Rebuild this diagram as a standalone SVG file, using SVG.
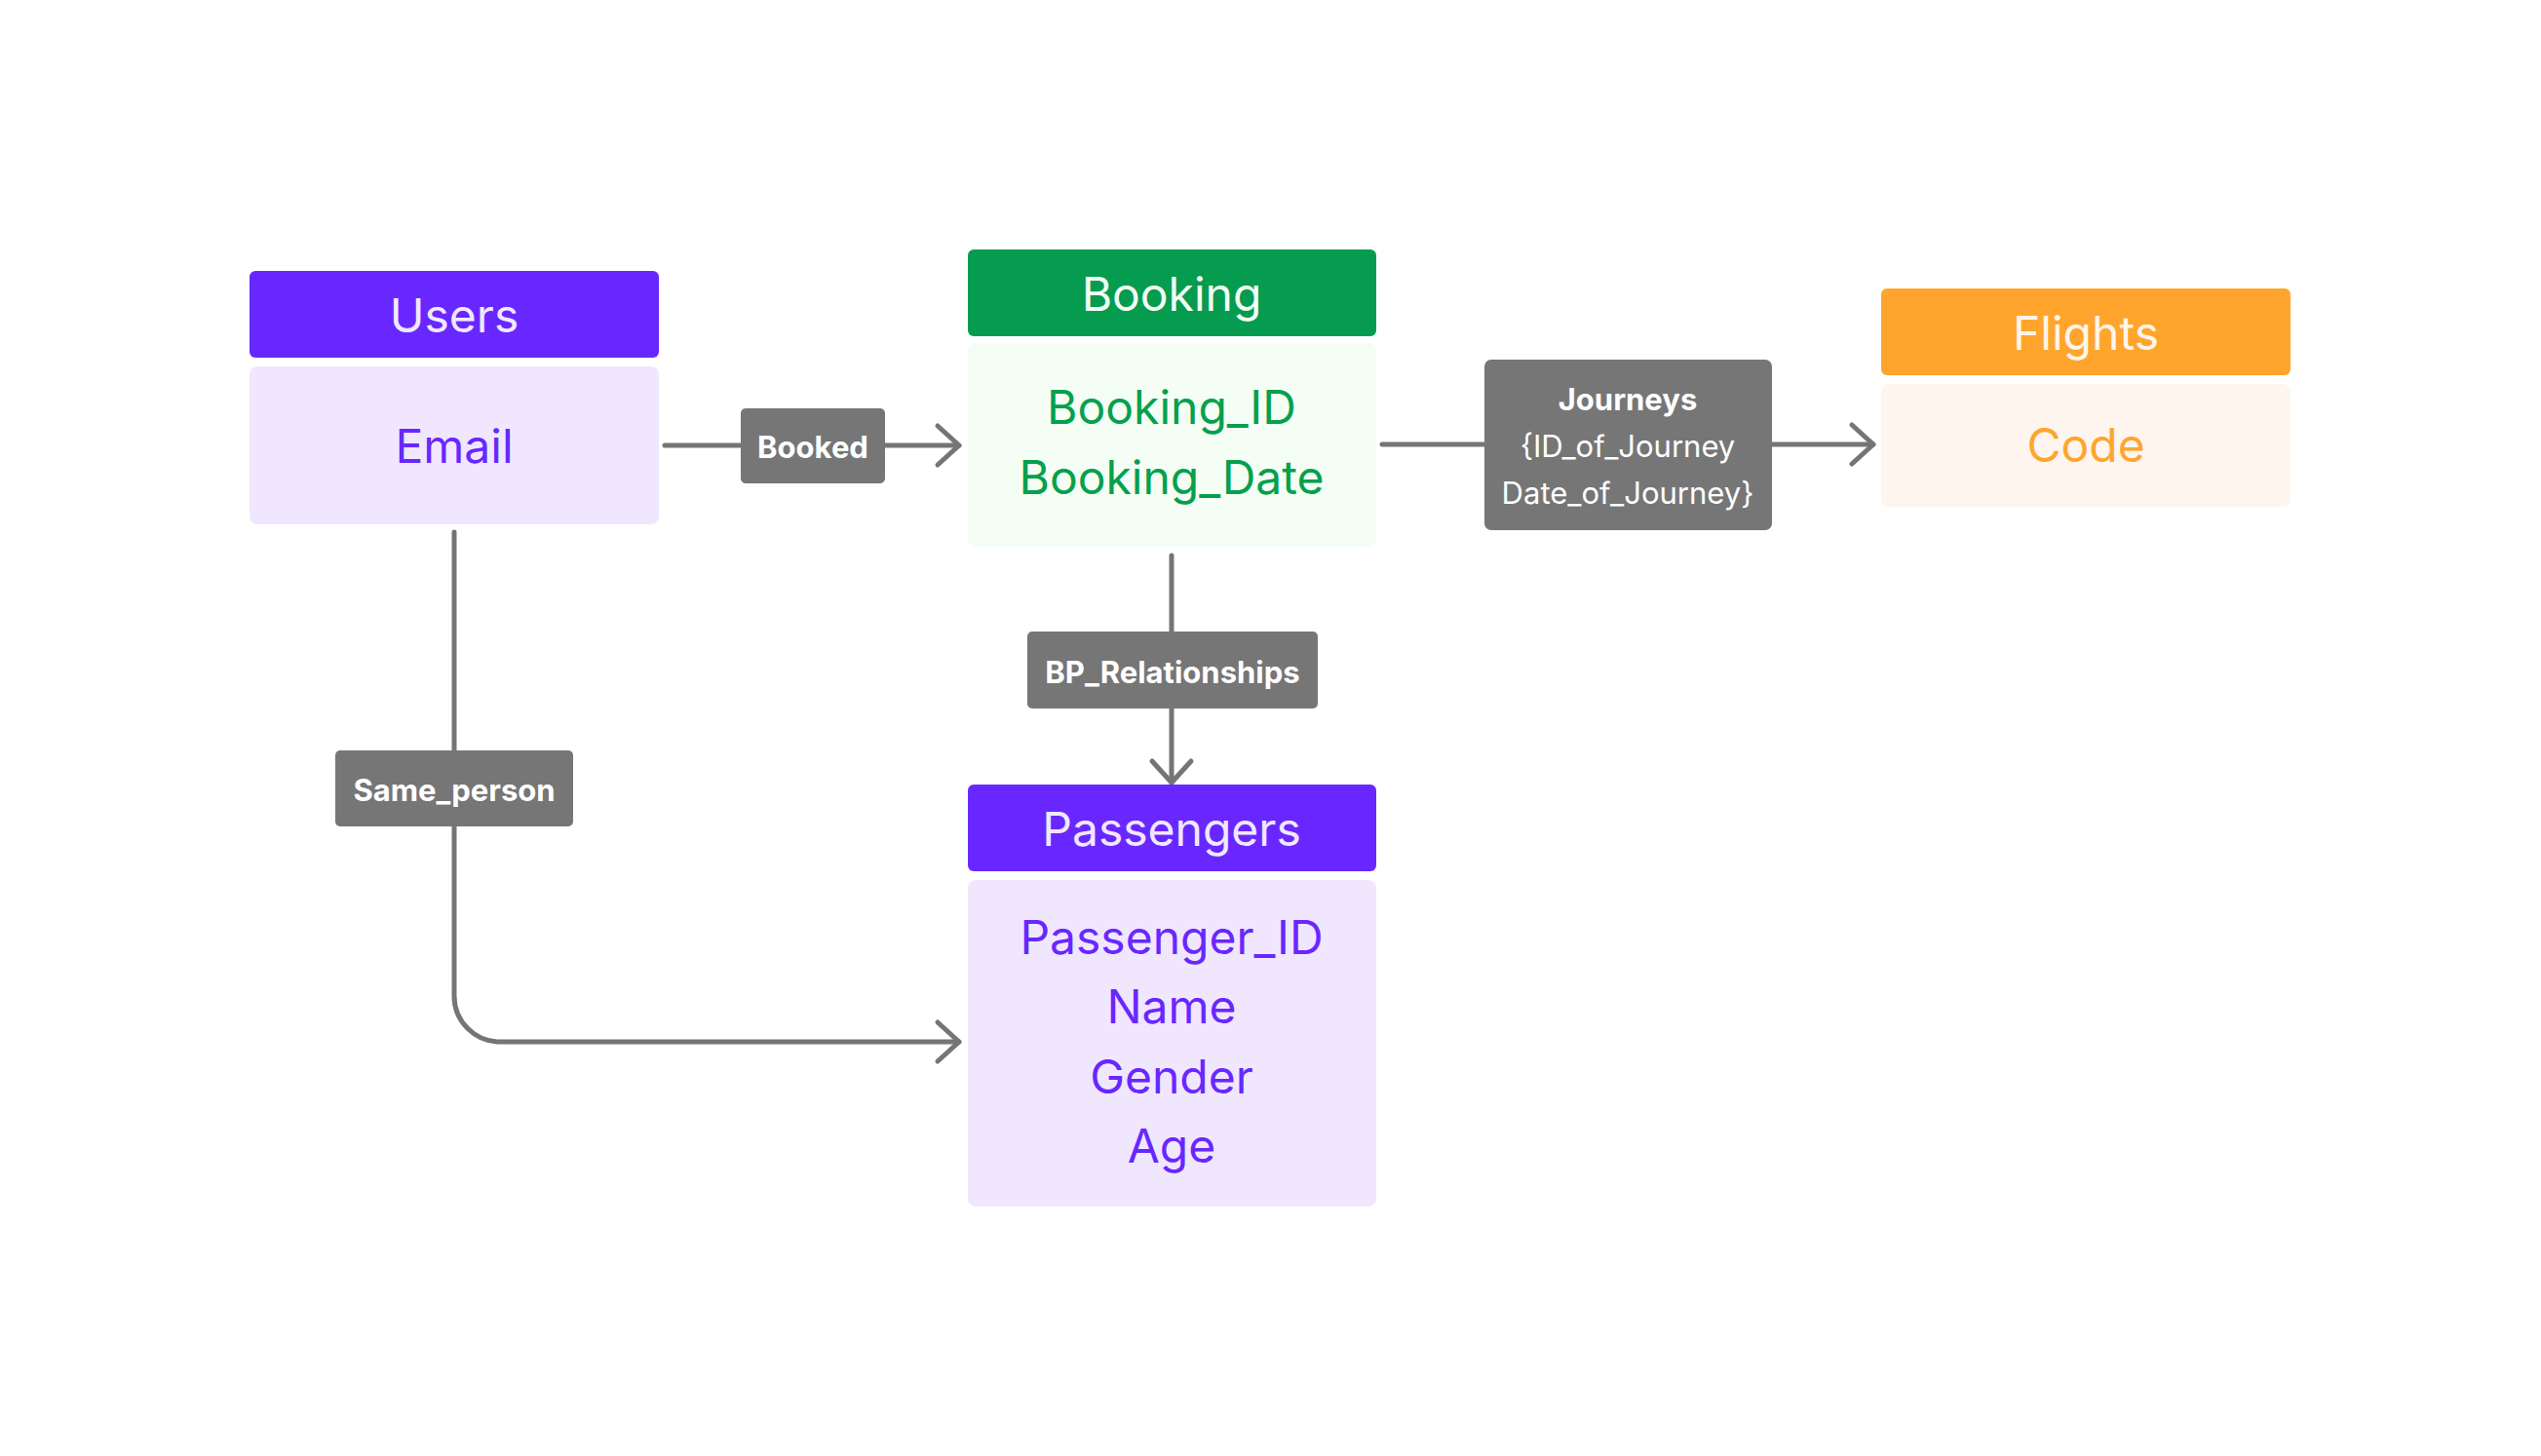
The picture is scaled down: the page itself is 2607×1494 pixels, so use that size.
<svg xmlns="http://www.w3.org/2000/svg" width="2607" height="1494" viewBox="0 0 2607 1494">
<style>
text{font-family:Inter,"Liberation Sans",sans-serif;text-anchor:middle;dominant-baseline:central}
.hd{font-size:48px}
.bd{font-size:48px}
.lbl{font-size:31px;font-weight:700;fill:#FFFFFF}
.lblr{font-size:31px;font-weight:400;fill:#FFFFFF}
.conn{fill:none;stroke:#757575;stroke-width:5;stroke-linecap:round;stroke-linejoin:round}
.lbox{fill:#767676}
</style>
<defs>
<marker id="arr" markerUnits="userSpaceOnUse" markerWidth="40" markerHeight="50" viewBox="-30 -25 40 50" refX="0" refY="0" orient="auto">
<path d="M-22,-20 L0,0 L-22,20" fill="none" stroke="#757575" stroke-width="5" stroke-linecap="round" stroke-linejoin="round"/>
</marker>
</defs>
<rect width="2607" height="1494" fill="#FFFFFF"/>
<g id="connectors">
<path class="conn" d="M682,457 H984" marker-end="url(#arr)"/>
<path class="conn" d="M1418,456 H1922" marker-end="url(#arr)"/>
<path class="conn" d="M1202,570 V803" marker-end="url(#arr)"/>
<path class="conn" d="M466,546 V1022 A47,47 0 0 0 513,1069 H984" marker-end="url(#arr)"/>
<g id="label-booked"><rect class="lbox" x="760" y="419" width="148" height="77" rx="5"/><text class="lbl" x="834" y="458">Booked</text></g>
<g id="label-journeys"><rect class="lbox" x="1523" y="369" width="295" height="175" rx="7"/><text class="lbl" x="1670" y="409">Journeys</text><text class="lblr" x="1670" y="457">{ID_of_Journey</text><text class="lblr" x="1670" y="505">Date_of_Journey}</text></g>
<g id="label-bp"><rect class="lbox" x="1054" y="648" width="298" height="79" rx="5"/><text class="lbl" x="1203" y="689">BP_Relationships</text></g>
<g id="label-same"><rect class="lbox" x="344" y="770" width="244" height="78" rx="5"/><text class="lbl" x="466" y="810">Same_person</text></g>
</g>
<g id="users">
<rect x="256" y="278" width="420" height="89" rx="6" fill="#6927FF"/>
<text class="hd" x="466" y="323" fill="#F0E8FE">Users</text>
<rect x="256" y="376" width="420" height="162" rx="8" fill="#F0E7FE"/>
<text class="bd" x="466" y="457" fill="#6927FF">Email</text>
</g>
<g id="booking">
<rect x="993" y="256" width="419" height="89" rx="6" fill="#059C4F"/>
<text class="hd" x="1202" y="301" fill="#F2FFF4">Booking</text>
<rect x="993" y="352" width="419" height="209" rx="8" fill="#F4FEF5"/>
<text class="bd" x="1202" y="417" fill="#05A04D">Booking_ID</text>
<text class="bd" x="1202" y="489" fill="#05A04D">Booking_Date</text>
</g>
<g id="flights">
<rect x="1930" y="296" width="420" height="89" rx="6" fill="#FFA52E"/>
<text class="hd" x="2140" y="341" fill="#FFF5EA">Flights</text>
<rect x="1930" y="394" width="420" height="126" rx="8" fill="#FEF6EE"/>
<text class="bd" x="2140" y="456" fill="#FFA52E">Code</text>
</g>
<g id="passengers">
<rect x="993" y="805" width="419" height="89" rx="6" fill="#6927FF"/>
<text class="hd" x="1202" y="850" fill="#F0E8FE">Passengers</text>
<rect x="993" y="903" width="419" height="335" rx="8" fill="#F0E7FE"/>
<text class="bd" x="1202" y="961" fill="#6927FF">Passenger_ID</text>
<text class="bd" x="1202" y="1032" fill="#6927FF">Name</text>
<text class="bd" x="1202" y="1104" fill="#6927FF">Gender</text>
<text class="bd" x="1202" y="1175" fill="#6927FF">Age</text>
</g>
</svg>
